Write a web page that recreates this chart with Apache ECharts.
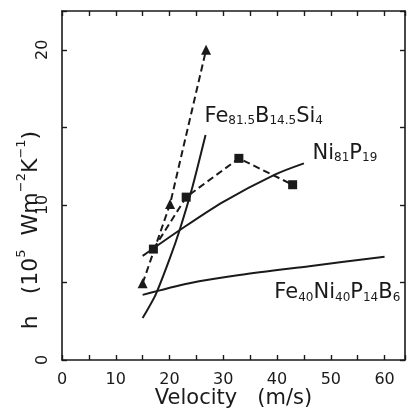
<!DOCTYPE html>
<html>
<head>
<meta charset="utf-8">
<script src="https://cdn.jsdelivr.net/npm/echarts@6/dist/echarts.min.js"></script>
<style>html,body{margin:0;padding:0;background:#fff}#c{width:407px;height:410px}</style>
</head>
<body>
<div id="c"></div>
<script>
// ---- data ----
var xTicks = [0, 10, 20, 30, 40, 50, 60];
var yTicks = [0, 10, 20];
var triX = [15, 20.1, 26.8];
var triY = [4.95, 10.05, 20.0];
var sqX = [17.0, 23.1, 32.9, 42.9];
var sqY = [7.15, 10.5, 13.0, 11.3];
var febX = [15.0, 17.4, 20.0, 21.9, 24.3, 26.7];
var febY = [2.7, 4.2, 6.5, 8.4, 11.2, 14.5];
var nipX = [15.0, 22.0, 30.0, 39.5, 45.0];
var nipY = [6.71, 8.4, 10.2, 11.94, 12.68];
var fnX = [15.0, 23.7, 33.0, 46.0, 60.0];
var fnY = [4.2, 4.95, 5.48, 6.05, 6.65];
var labelX = [26.5, 46.6, 39.5];
var labelY = [15.8, 13.4, 4.42];
var labelText = [
  '{m|Fe}{s|81.5}{m|B}{s|14.5}{m|Si}{s|4}',
  '{m|Ni}{s|81}{m|P}{s|19}',
  '{m|Fe}{s|40}{m|Ni}{s|40}{m|P}{s|14}{m|B}{s|6}'
];

function pairs(xs, ys) { return xs.map(function (x, i) { return [x, ys[i]]; }); }

var FONT = 'DejaVu Sans';
var INK = '#1a1a1a';
var chart = echarts.init(document.getElementById('c'), null, {renderer: 'canvas'});

function axisCommon() {
  return {
    axisLine: {show: true, onZero: false, lineStyle: {color: INK, width: 1.6}},
    axisTick: {show: true, inside: true, length: 5, lineStyle: {color: INK, width: 1.4}},
    splitLine: {show: false}
  };
}

var option = {
  animation: false,
  backgroundColor: '#fff',
  grid: {left: 62, top: 11, width: 343, height: 349, containLabel: false, outerBoundsMode: 'none'},
  xAxis: [
    Object.assign({
      type: 'value', min: 0, max: 63.8, interval: 5, position: 'bottom',
      name: 'Velocity   (m/s)', nameLocation: 'middle', nameGap: 28, nameMoveOverlap: false,
      nameTextStyle: {fontFamily: FONT, fontSize: 21, color: INK},
      axisLabel: {
        margin: 12, fontFamily: FONT, fontSize: 16, color: INK,
        formatter: function (v) { return xTicks.indexOf(v) >= 0 ? String(v) : ''; }
      }
    }, axisCommon()),
    Object.assign({
      type: 'value', min: 0, max: 63.8, interval: 5, position: 'top',
      axisLabel: {show: false}
    }, axisCommon())
  ],
  yAxis: [
    Object.assign({
      type: 'value', min: 0, max: 22.5, interval: 5, position: 'left',
      axisLabel: {
        rotate: 90, margin: 11, fontFamily: FONT, fontSize: 16, color: INK,
        formatter: function (v) { return yTicks.indexOf(v) >= 0 ? String(v) : ''; }
      }
    }, axisCommon()),
    Object.assign({
      type: 'value', min: 0, max: 22.5, interval: 5, position: 'right',
      axisLabel: {show: false}
    }, axisCommon())
  ],
  graphic: [{
    type: 'text', x: 30, y: 230, rotation: Math.PI / 2,
    style: {
      text: '{m|h   (10}{p|5}{m|  Wm}{p|\u22122}{m|K}{p|\u22121}{m|)}',
      align: 'center', verticalAlign: 'middle',
      rich: {
        m: {fontFamily: FONT, fontSize: 22, fill: INK, verticalAlign: 'top', padding: [5, 0, 0, 0], lineHeight: 30},
        p: {fontFamily: FONT, fontSize: 13, fill: INK, verticalAlign: 'top', lineHeight: 30}
      }
    }
  }],
  series: [
    {
      type: 'line', data: pairs(triX, triY), symbol: 'triangle', symbolSize: 10,
      itemStyle: {color: INK}, lineStyle: {color: INK, width: 2, type: [7, 4]}, z: 3
    },
    {
      type: 'line', data: pairs(sqX, sqY), symbol: 'rect', symbolSize: 9,
      itemStyle: {color: INK}, lineStyle: {color: INK, width: 2, type: [7, 4]}, z: 3
    },
    {
      type: 'line', data: pairs(febX, febY), symbol: 'none', smooth: 0.2,
      lineStyle: {color: INK, width: 2}
    },
    {
      type: 'line', data: pairs(nipX, nipY), symbol: 'none', smooth: 0.3,
      lineStyle: {color: INK, width: 2}
    },
    {
      type: 'line', data: pairs(fnX, fnY), symbol: 'none', smooth: 0.3,
      lineStyle: {color: INK, width: 2}
    },
    {
      type: 'scatter', symbolSize: 0, silent: true,
      data: labelX.map(function (x, i) { return {value: [x, labelY[i]], label: {formatter: labelText[i]}}; }),
      label: {
        show: true, position: 'right', distance: 0, color: INK, opacity: 1,
        rich: {
          m: {fontFamily: FONT, fontSize: 21, color: INK, verticalAlign: 'bottom', lineHeight: 24},
          s: {fontFamily: FONT, fontSize: 12, color: INK, verticalAlign: 'bottom', lineHeight: 24}
        }
      }
    }
  ]
};
chart.setOption(option);
</script>
</body>
</html>
